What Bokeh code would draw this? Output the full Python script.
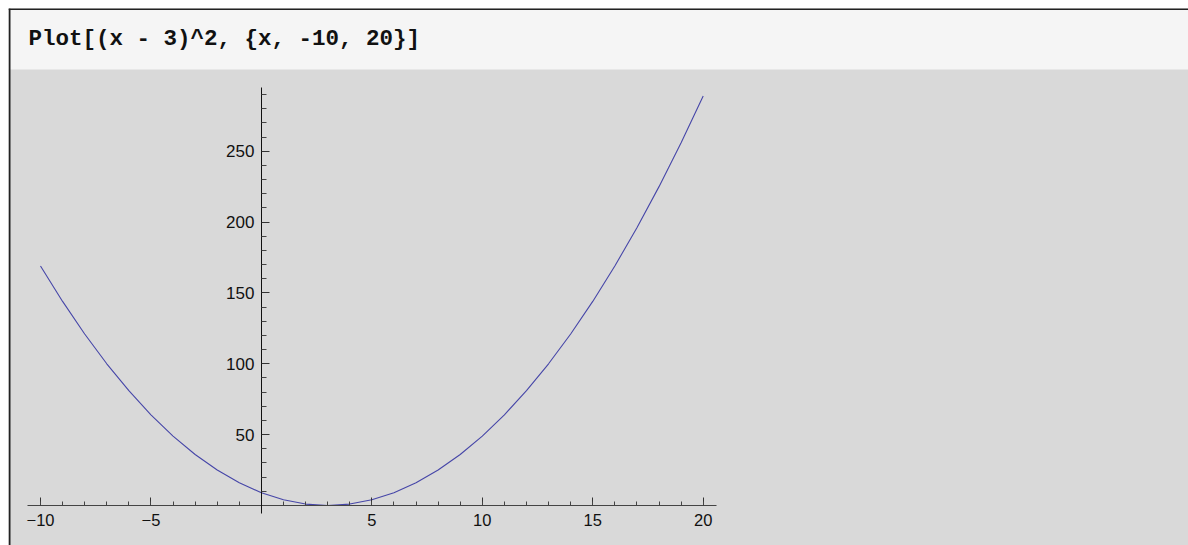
from bokeh.plotting import figure
from bokeh.models import LinearAxis, FixedTicker, BoxAnnotation, Label, Span, Range1d
from bokeh.embed import file_html
from bokeh.resources import INLINE

# ---- data ----
x_vals = [-10, -9, -8, -7, -6, -5, -4, -3, -2, -1, 0, 1, 2, 3, 4, 5, 6, 7, 8, 9, 10,
          11, 12, 13, 14, 15, 16, 17, 18, 19, 20]
y_vals = [169, 144, 121, 100, 81, 64, 49, 36, 25, 16, 9, 4, 1, 0, 1, 4, 9, 16, 25, 36, 49,
          64, 81, 100, 121, 144, 169, 196, 225, 256, 289]
x_major = [-10, -5, 5, 10, 15, 20]
x_major_labels = {-10: "\u221210", -5: "\u22125"}
x_minor = list(range(-10, 21))
y_major = [50, 100, 150, 200, 250]
y_minor = [10, 20, 30, 40, 60, 70, 80, 90, 110, 120, 130, 140, 160, 170, 180, 190,
           210, 220, 230, 240, 260, 270, 280, 290]
header_text = "Plot[(x - 3)^2, {x, -10, 20}]"
x_plot_range = (-10.6, 20.6)
y_plot_range = (-5.78, 294.78)

# ---- layout (pixels) ----
OFF = 8                      # white margin left/top inside the figure
W, H = 1188, 545
FW, FH = W - OFF, H - OFF    # frame size
HEADER_H = 61
px_per_x = 22.09
px_per_y = 1.4172
x_ref_px = 32.0     # frame column of x = -10
y0_px = 497.0       # frame row of y = 0

x_start = x_major[0] - x_ref_px / px_per_x
x_end = x_start + FW / px_per_x
y_end = y0_px / px_per_y
y_start = y_end - FH / px_per_y
header_bottom = y_end - HEADER_H / px_per_y

p = figure(width=W, height=H, output_backend="svg", toolbar_location=None,
           x_range=Range1d(x_start, x_end), y_range=Range1d(y_start, y_end),
           x_axis_type=None, y_axis_type=None,
           min_border=0, min_border_left=OFF, min_border_right=0,
           min_border_top=OFF, min_border_bottom=0)
p.background_fill_color = "#d9d9d9"
p.border_fill_color = "white"
p.outline_line_color = None
p.grid.visible = False

# header strip
p.add_layout(BoxAnnotation(bottom=header_bottom, fill_color="#f5f5f5", fill_alpha=1.0,
                           line_color=None, level="underlay"))

axis_font = "Liberation Sans"

xaxis = LinearAxis(fixed_location=0, bounds=x_plot_range,
                   ticker=FixedTicker(ticks=x_major, minor_ticks=x_minor))
xaxis.major_label_overrides = x_major_labels
xaxis.axis_line_color = "#444444"
xaxis.axis_line_width = 1.2
xaxis.major_tick_in = 8
xaxis.major_tick_out = 0
xaxis.minor_tick_in = 4
xaxis.minor_tick_out = 0
xaxis.major_tick_line_color = "#333333"
xaxis.minor_tick_line_color = "#444444"
xaxis.major_label_standoff = 8
xaxis.major_label_text_font = axis_font
xaxis.major_label_text_font_size = "16.5px"
xaxis.major_label_text_color = "#111111"
p.add_layout(xaxis, "below")

yaxis = LinearAxis(fixed_location=0, bounds=y_plot_range,
                   ticker=FixedTicker(ticks=y_major, minor_ticks=y_minor))
yaxis.axis_line_color = "#111111"
yaxis.major_tick_in = 8
yaxis.major_tick_out = 0
yaxis.minor_tick_in = 5
yaxis.minor_tick_out = 0
yaxis.major_tick_line_color = "#333333"
yaxis.minor_tick_line_color = "#444444"
yaxis.major_label_standoff = 7
yaxis.major_label_text_font = axis_font
yaxis.major_label_text_font_size = "17px"
yaxis.major_label_text_color = "#111111"
p.add_layout(yaxis, "left")

p.line(x_vals, y_vals, line_color="#4646a8", line_width=1.1)

# header text
p.add_layout(Label(x=x_start + 20 / px_per_x, y=y_end - 30 / px_per_y, text=header_text,
                   text_font="Liberation Mono", text_font_style="bold",
                   text_font_size="22.5px", text_baseline="middle", text_align="left",
                   text_color="#111111"))

# borders (top and left)
p.add_layout(Span(location=y_end - 0.5 / px_per_y, dimension="width",
                  line_color="#222222", line_width=2))
p.add_layout(Span(location=x_start + 1 / px_per_x, dimension="height",
                  line_color="#222222", line_width=2))

open("out.html", "w").write(file_html(p, INLINE))
